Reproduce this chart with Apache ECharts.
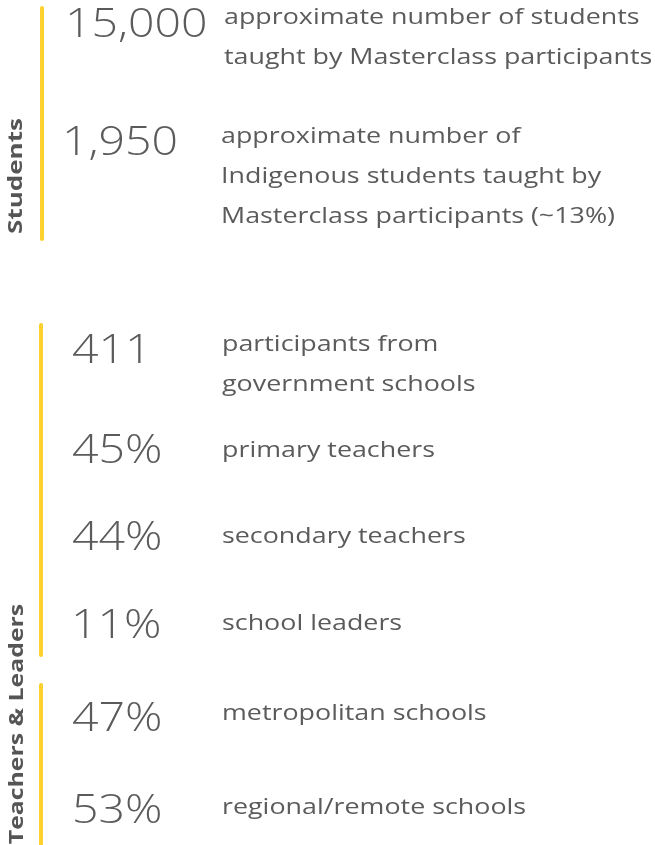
<!DOCTYPE html>
<html>
<head>
<meta charset="utf-8">
<script src="https://cdn.jsdelivr.net/npm/echarts@6/dist/echarts.min.js"></script>
<style>
  html, body { margin: 0; padding: 0; background: #fff; }
  #chart { width: 655px; height: 845px; }
</style>
</head>
<body>
<div id="chart"></div>
<script>
// data
const groups = ['Students', 'Teachers & Leaders'];
const figures = ['15,000', '1,950', '411', '45%', '44%', '11%', '47%', '53%'];
const descriptions = [
  ['approximate number of students', 'taught by Masterclass participants'],
  ['approximate number of', 'Indigenous students taught by', 'Masterclass participants (~13%)'],
  ['participants from', 'government schools'],
  ['primary teachers'],
  ['secondary teachers'],
  ['school leaders'],
  ['metropolitan schools'],
  ['regional/remote schools']
];

// layout
const rowY = [26, 144, 352, 452, 539, 627, 720, 812];     // figure centre
const descY = [18, 137, 345, 451, 537, 624, 714, 808];    // first desc line centre
const figX = [65, 62, 72, 72, 72, 71, 72, 72];
const descX = [224, 221, 222, 222, 222, 222, 222, 222];
const lineH = 40;
const textColor = '#5b5b5b';
const yellow = '#fdd12e';
const font = '"Open Sans", sans-serif';

const chart = echarts.init(document.getElementById('chart'));

const elements = [];

// yellow bars
[[42, 8, 239], [41, 325, 655], [41, 685, 850]].forEach(([x, y1, y2]) => {
  elements.push({
    type: 'line',
    shape: { x1: x, y1: y1, x2: x, y2: y2 },
    style: { stroke: yellow, lineWidth: 4, lineCap: 'round' }
  });
});

// group titles (rotated, stretched along the text direction)
[[16, 176, 1.3, groups[0]], [17, 724, 1.24, groups[1]]].forEach(([x, y, s, t]) => {
  elements.push({
    type: 'text',
    x: x, y: y,
    rotation: Math.PI / 2,
    scaleX: s,
    style: {
      text: t, fill: '#555', font: 'bold 20px ' + font,
      align: 'center', verticalAlign: 'middle'
    }
  });
});

figures.forEach((f, i) => {
  elements.push({
    type: 'text',
    x: figX[i], y: rowY[i],
    scaleX: 1.16,
    style: {
      text: f, fill: textColor, font: '300 40px ' + font,
      align: 'left', verticalAlign: 'middle'
    }
  });
  descriptions[i].forEach((d, j) => {
    elements.push({
      type: 'text',
      x: descX[i], y: descY[i] + j * lineH,
      scaleX: 1.22,
      style: {
        text: d, fill: textColor, font: '22px ' + font,
        align: 'left', verticalAlign: 'middle'
      }
    });
  });
});

chart.setOption({
  backgroundColor: '#fff',
  animation: false,
  graphic: { elements: elements }
});
</script>
</body>
</html>
